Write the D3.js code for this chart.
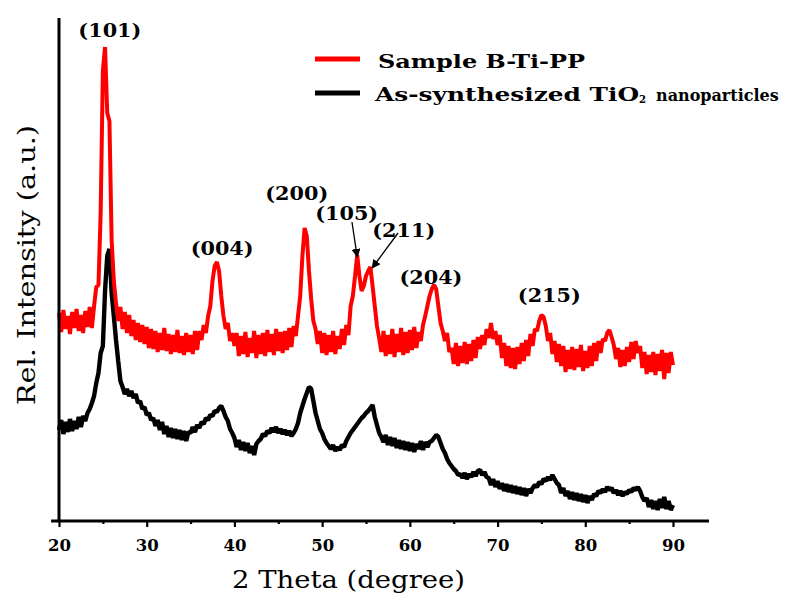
<!DOCTYPE html>
<html><head><meta charset="utf-8">
<script src="https://cdn.jsdelivr.net/npm/d3@7"></script>
<style>body{margin:0;background:#fff}svg{display:block}
svg text{font-family:"DejaVu Serif","Liberation Serif","Times New Roman",serif;}
</style>
</head><body><svg id="c" width="800" height="597"></svg>
<script>
// ---- data ----
const twoThetaStart = 20, twoThetaEnd = 90, twoThetaStep = 0.25;
const xTicks = [20, 30, 40, 50, 60, 70, 80, 90];
const xMinorTicks = [25, 35, 45, 55, 65, 75, 85];
const seriesNames = ["Sample B-Ti-PP", "As-synthesized TiO", "2", "nanoparticles"];
// Sample B-Ti-PP (red), relative intensity, one value every 0.25 deg from 20 to 90
const sampleBTiPP = [
/*20*/208,189,211,192, /*21*/205,187,209,193, /*22*/212,190,206,188, /*23*/210,194,214,193,
/*24*/215,234,236,308, /*25*/450,474,408,400, /*26*/281,240,218,200, /*27*/214,192,209,188,
/*28*/206,185,201,181, /*29*/198,179,196,177, /*30*/194,173,192,172, /*31*/190,169,188,171,
/*32*/193,170,187,167, /*33*/186,169,191,168, /*34*/185,166,188,169, /*35*/186,167,190,171,
/*36*/190,181,196,188, /*37*/205,215,240,255, /*38*/259,250,225,205, /*39*/192,198,180,188,
/*40*/175,188,165,185, /*41*/167,189,164,183, /*42*/168,190,163,186, /*43*/167,188,165,191,
/*44*/169,187,166,192, /*45*/170,189,168,190, /*46*/171,193,174,195, /*47*/185,205,225,265,
/*48*/293,285,250,222, /*49*/200,192,177,190, /*50*/168,188,166,186, /*51*/169,190,167,185,
/*52*/172,192,176,196, /*53*/186,215,225,245, /*54*/266,245,230,235, /*55*/245,250,254,235,
/*56*/215,195,183,169, /*57*/190,165,186,167, /*58*/192,164,187,169, /*59*/193,166,189,168,
/*60*/191,171,194,173, /*61*/189,180,196,205, /*62*/215,225,232,236, /*63*/232,215,198,190,
/*64*/180,188,169,173, /*65*/157,178,155,175, /*66*/158,179,157,177, /*67*/160,181,163,184,
/*68*/172,186,176,192, /*69*/183,198,182,190, /*70*/176,186,163,178, /*71*/155,175,153,173,
/*72*/152,174,157,178, /*73*/160,181,165,187, /*74*/175,192,190,200, /*75*/206,204,195,180,
/*76*/188,167,180,159, /*77*/177,155,175,149, /*78*/171,152,174,151, /*79*/172,154,176,150,
/*80*/170,153,175,155, /*81*/178,160,180,168, /*82*/182,180,188,191, /*83*/184,176,162,173,
/*84*/154,171,155,174, /*85*/159,179,162,180, /*86*/168,175,153,169, /*87*/147,166,149,169,
/*88*/146,167,150,171, /*89*/142,168,148,169, /*90*/156
];
// As-synthesized TiO2 nanoparticles (black)
const asSynthesizedTiO2 = [
/*20*/91,101,87,99, /*21*/89,102,90,100, /*22*/92,104,94,105, /*23*/100,108,112,118,
/*24*/125,138,148,168, /*25*/175,230,265,272, /*26*/228,205,181,160, /*27*/140,134,127,132,
/*28*/125,130,123,127, /*29*/118,120,112,114, /*30*/106,108,101,103, /*31*/95,101,91,99,
/*32*/87,95,84,93, /*33*/83,92,82,91, /*34*/81,90,80,89, /*35*/88,94,89,96,
/*36*/93,99,97,103, /*37*/101,106,105,110, /*38*/109,113,115,110, /*39*/104,100,92,88,
/*40*/83,74,81,71, /*41*/79,70,78,68, /*42*/75,66,77,80, /*43*/82,87,85,90,
/*44*/88,93,89,94, /*45*/88,92,87,91, /*46*/86,90,85,88, /*47*/92,98,108,115,
/*48*/122,128,134,132, /*49*/120,108,100,92, /*50*/88,82,78,75, /*51*/72,76,70,74,
/*52*/71,76,74,80, /*53*/84,88,91,94, /*54*/97,100,103,105, /*55*/108,110,113,116,
/*56*/104,96,88,84, /*57*/79,86,76,84, /*58*/75,83,73,81, /*59*/72,80,71,79,
/*60*/70,78,69,77, /*61*/72,80,71,79, /*62*/74,79,80,83, /*63*/86,84,78,72,
/*64*/68,62,58,55, /*65*/52,50,46,47, /*66*/43,48,42,47, /*67*/44,49,45,50,
/*68*/51,46,49,44, /*69*/43,36,42,34, /*70*/40,32,38,30, /*71*/37,29,36,28,
/*72*/35,27,34,26, /*73*/33,25,32,28, /*74*/33,36,34,39, /*75*/37,42,40,44,
/*76*/41,46,42,38, /*77*/36,28,33,25, /*78*/30,22,29,21, /*79*/28,20,27,19,
/*80*/26,18,25,21, /*81*/27,25,30,28, /*82*/32,29,34,31, /*83*/33,28,31,26,
/*84*/30,25,29,27, /*85*/31,29,33,31, /*86*/34,30,24,20, /*87*/23,14,21,12,
/*88*/20,11,22,13, /*89*/24,12,20,11, /*90*/16
];
// Peak annotations (Miller indices), anchored in data coordinates
const peakLabels = ["(101)", "(004)", "(200)", "(105)", "(211)", "(204)", "(215)"];
const peakLabelTheta = [25.8, 38.6, 47.1, 52.8, 59.3, 62.4, 75.9];
const peakLabelIntensity = [484, 266, 321, 301, 284, 237, 219];
const arrowFromTheta = [53.4, 58.65];
const arrowFromIntensity = [299, 288];
const arrowToTheta = [54.0, 55.7];
const arrowToIntensity = [264, 253];

// ---- chart ----
const twoTheta = d3.range(0, sampleBTiPP.length).map(i => twoThetaStart + i * twoThetaStep);
const svg = d3.select("#c");
svg.append("rect").attr("width", 800).attr("height", 597).attr("fill", "#fff");
const x = d3.scaleLinear().domain([twoThetaStart, twoThetaEnd]).range([59, 673]);
const y = d3.scaleLinear().domain([0, 503]).range([521, 18]);

const line = d3.line().x((d, i) => x(twoTheta[i])).y(d => y(d)).curve(d3.curveLinear);
svg.append("path").datum(asSynthesizedTiO2).attr("d", line)
  .attr("fill", "none").attr("stroke", "#000").attr("stroke-width", 4.4).attr("stroke-linejoin", "bevel");
svg.append("path").datum(sampleBTiPP).attr("d", line)
  .attr("fill", "none").attr("stroke", "#ff0000").attr("stroke-width", 4).attr("stroke-linejoin", "bevel");

// axes
const gx = svg.append("g").attr("transform", "translate(0,521)");
gx.call(d3.axisBottom(x).tickValues(xTicks).tickSize(6).tickSizeOuter(0).tickPadding(12).tickFormat(d3.format("d")));
gx.select(".domain").remove();
gx.selectAll(".tick line").attr("stroke", "#000").attr("stroke-width", 2.2);
gx.selectAll(".tick text").attr("font-weight", "bold").attr("font-size", 17).attr("fill", "#000")
  .attr("textLength", 23).attr("lengthAdjust", "spacingAndGlyphs");
const gm = svg.append("g").attr("transform", "translate(0,521)");
gm.call(d3.axisBottom(x).tickValues(xMinorTicks).tickSize(3).tickSizeOuter(0).tickFormat(""));
gm.select(".domain").remove();
gm.selectAll(".tick line").attr("stroke", "#000").attr("stroke-width", 2.2);
svg.append("line").attr("x1", x(19.1)).attr("x2", x(94.1)).attr("y1", 521).attr("y2", 521)
  .attr("stroke", "#000").attr("stroke-width", 3);
svg.append("line").attr("x1", x(20)).attr("x2", x(20)).attr("y1", y(503)).attr("y2", 522)
  .attr("stroke", "#000").attr("stroke-width", 3);

// axis titles
svg.append("text").attr("x", 232).attr("y", 588).attr("font-size", 24)
  .attr("textLength", 233).attr("lengthAdjust", "spacingAndGlyphs").text("2 Theta (degree)");
svg.append("text").attr("transform", "translate(35,405) rotate(-90)")
  .attr("font-size", 24).attr("textLength", 280).attr("lengthAdjust", "spacingAndGlyphs").text("Rel. Intensity (a.u.)");

// peak labels
peakLabels.forEach((t, i) => {
  svg.append("text").attr("x", x(peakLabelTheta[i])).attr("y", y(peakLabelIntensity[i]))
    .attr("text-anchor", "middle").attr("font-weight", "bold")
    .attr("font-size", 19).attr("textLength", 63).attr("lengthAdjust", "spacingAndGlyphs").text(t);
});
const defs = svg.append("defs");
defs.append("marker").attr("id", "ah").attr("viewBox", "0 0 10 10").attr("refX", 9).attr("refY", 5)
  .attr("markerWidth", 9).attr("markerHeight", 9).attr("markerUnits", "userSpaceOnUse").attr("orient", "auto")
  .append("path").attr("d", "M0,0 L10,5 L0,10 Z").attr("fill", "#000");
arrowFromTheta.forEach((t, i) => {
  svg.append("line").attr("x1", x(t)).attr("y1", y(arrowFromIntensity[i]))
    .attr("x2", x(arrowToTheta[i])).attr("y2", y(arrowToIntensity[i]))
    .attr("stroke", "#000").attr("stroke-width", 1.3).attr("marker-end", "url(#ah)");
});

// legend
svg.append("line").attr("x1", 315).attr("x2", 360).attr("y1", 59).attr("y2", 59).attr("stroke", "#ff0000").attr("stroke-width", 5);
svg.append("line").attr("x1", 315).attr("x2", 360).attr("y1", 93).attr("y2", 93).attr("stroke", "#000").attr("stroke-width", 5);
const lg = (tx, x0, y0, w, fs) => svg.append("text").attr("x", x0).attr("y", y0)
  .attr("font-weight", "bold").attr("font-size", fs).attr("textLength", w).attr("lengthAdjust", "spacingAndGlyphs").text(tx);
lg(seriesNames[0], 378, 68, 207, 18);
lg(seriesNames[1], 375, 101, 264, 18);
lg(seriesNames[2], 639, 103, 7, 11);
svg.append("text").attr("x", 656).attr("y", 101).attr("font-weight", "bold").attr("font-size", 16).text(seriesNames[3]);
</script></body></html>
